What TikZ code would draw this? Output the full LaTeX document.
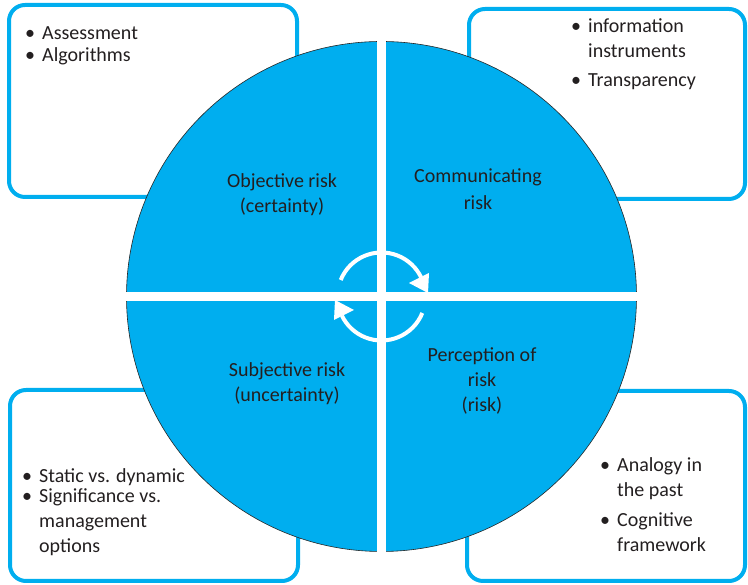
\documentclass[tikz,border=0pt]{standalone}
\usepackage{fontspec}
\setmainfont{Carlito}
\definecolor{riskblue}{RGB}{0,174,239}
\definecolor{inktext}{RGB}{35,31,32}
\newcommand{\bul}{\llap{\textbullet\hspace{7pt}}}

\begin{document}
\begin{tikzpicture}[x=1pt, y=1pt, line join=round, line cap=round,
		font=\fontsize{20}{25}\selectfont, text=inktext,
		panel/.style={draw=riskblue, line width=4pt, rounded corners=16pt},
		items/.style={align=left, anchor=base west, inner sep=0pt},
		quarter/.style={align=center, anchor=base, inner sep=0pt}]
	\useasboundingbox (0,0) rectangle (748,585);
	% side panels, behind the pie
	\draw[panel] (9,580) rectangle (297,388);
	\draw[panel] (469,576) rectangle (745,386);
	\draw[panel] (10,195) rectangle (298,4);
	\draw[panel] (467,194) rectangle (745,4);
	% the pie in four quarters
	\coordinate (c) at (381.5,288.5);
	\fill[riskblue] (c) circle (255);
	\draw[black!85, line width=0.6pt] (c) circle (255);
	\draw[white, line width=9pt, line cap=butt] (c) ++(-257,0) -- ++(514,0);
	\draw[white, line width=9pt, line cap=butt] (c) ++(0,-257) -- ++(0,514);
	% cycle arrows in the middle
	\begin{scope}[shift={(c)}, white]
		\draw[line width=4pt, line cap=butt] (158:44) arc (158:26:44);
		\fill (27.5,13.5) -- (47.5,23.5) -- (46.5,3.5) -- cycle;
		\draw[line width=4pt, line cap=butt] (-22:44) arc (-22:-154:44);
		\fill (-27.5,-13.5) -- (-47.5,-23.5) -- (-46.5,-3.5) -- cycle;
	\end{scope}
	% quarter labels (placed by their last line)
	\node[quarter] (obj) at (282,372) {Objective risk\\(certainty)};
	\node[quarter] (comm) at (478,375) {Communicating\\[2pt]risk};
	\node[quarter] (subj) at (287,183) {Subjective risk\\(uncertainty)};
	\node[quarter] (perc) at (482,173) {Perception of\\risk\\(risk)};
	% panel texts
	\node[items] (assess) at (42,523) {\bul Assessment\\[-3pt]\bul Algorithms};
	\node[items] (inform) at (588,498) {\bul information\\instruments\\[4pt]\bul Transparency};
	\node[items] (static) at (39,32) {\bul Static vs. dynamic\\[-5pt]\bul Significance vs.\\management\\options};
	\node[items] (analogy) at (617,33) {\bul Analogy in\\the past\\[5pt]\bul Cognitive\\framework};
\end{tikzpicture}
\end{document}
